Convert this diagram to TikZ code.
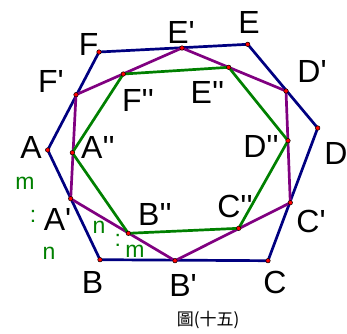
\documentclass[tikz,border=0pt]{standalone}
\usepackage{fontspec}
\setmainfont{Liberation Sans}
\newfontfamily\cjk{Noto Sans CJK TC}
\usetikzlibrary{positioning}
\definecolor{polyblue}{RGB}{0,0,128}
\definecolor{polypurple}{RGB}{128,0,128}
\definecolor{polygreen}{RGB}{0,128,0}
\definecolor{ptred}{RGB}{255,0,0}
\newcommand{\pr}{\textquotesingle}

\begin{document}
\begin{tikzpicture}[x=1pt,y=-1pt,
  side/.style={line width=2.7pt, line join=round},
  lab/.style={inner sep=0pt, font=\fontsize{32}{32}\selectfont},
  ratio/.style={inner sep=0pt, text=polygreen, font=\fontsize{23}{23}\selectfont},
  vertex/.style={circle, draw=black, fill=ptred, line width=0.5pt, inner sep=0pt, minimum size=4.5pt}]
  \useasboundingbox (0,0) rectangle (347,333);

  % outer hexagon
  \coordinate (A) at (47.7,150);
  \coordinate (B) at (100,259.7);
  \coordinate (C) at (268,260.7);
  \coordinate (D) at (317.7,128);
  \coordinate (E) at (247.7,44.3);
  \coordinate (F) at (99,52);
  % first division points
  \coordinate (Ap) at (70.7,198.7);
  \coordinate (Bp) at (175,260.7);
  \coordinate (Cp) at (290.3,202.7);
  \coordinate (Dp) at (286,91);
  \coordinate (Ep) at (182,48);
  \coordinate (Fp) at (76,94.7);
  % second division points
  \coordinate (App) at (72.3,152.7);
  \coordinate (Bpp) at (128.3,233.3);
  \coordinate (Cpp) at (238.7,228.3);
  \coordinate (Dpp) at (288,140.7);
  \coordinate (Epp) at (228.7,67.3);
  \coordinate (Fpp) at (123.3,74);

  \draw[side, polyblue] (A) -- (B) -- (C) -- (D) -- (E) -- (F) -- cycle;
  \draw[side, polypurple] (Ap) -- (Bp) -- (Cp) -- (Dp) -- (Ep) -- (Fp) -- cycle;
  \draw[side, polygreen] (App) -- (Bpp) -- (Cpp) -- (Dpp) -- (Epp) -- (Fpp) -- cycle;

  \foreach \p in {A,B,C,D,E,F,Ap,Bp,Cp,Dp,Ep,Fp,App,Bpp,Cpp,Dpp,Epp,Fpp}
    \node[vertex] (v\p) at (\p) {};

  % vertex labels
  \node[lab] (lA) at (31,147.5) {A};
  \node[lab] (lB) at (92.5,282.5) {B};
  \node[lab] (lC) at (275,282.5) {C};
  \node[lab] (lD) at (336,153) {D};
  \node[lab] (lE) at (249,22.5) {E};
  \node[lab] (lF) at (88.7,44) {F};
  \node[lab] (lAp) at (57.5,219) {A\pr};
  \node[lab] (lBp) at (183,285) {B\pr};
  \node[lab] (lCp) at (311,221) {C\pr};
  \node[lab] (lDp) at (312,71) {D\pr};
  \node[lab] (lEp) at (181,32) {E\pr};
  \node[lab] (lFp) at (51,81) {F\pr};
  \node[lab] (lApp) at (98,147.5) {A\pr\pr};
  \node[lab] (lBpp) at (155,214) {B\pr\pr};
  \node[lab] (lCpp) at (235,206) {C\pr\pr};
  \node[lab] (lDpp) at (261,146) {D\pr\pr};
  \node[lab] (lEpp) at (207.5,92.5) {E\pr\pr};
  \node[lab] (lFpp) at (138,100.5) {F\pr\pr};

  % ratios
  \node[ratio] (m1) at (25,183) {m};
  \node[ratio] (c1) at (33,216.5) {:};
  \node[ratio] (n1) at (49,253) {n};
  \node[ratio] (n2) at (99,227) {n};
  \node[ratio] (c2) at (117.7,240) {:};
  \node[ratio] (m2) at (135,251) {m};

  \node[inner sep=0pt, font=\cjk\fontsize{17}{17}\selectfont] (cap) at (208,320) {圖(十五)};
\end{tikzpicture}
\end{document}
